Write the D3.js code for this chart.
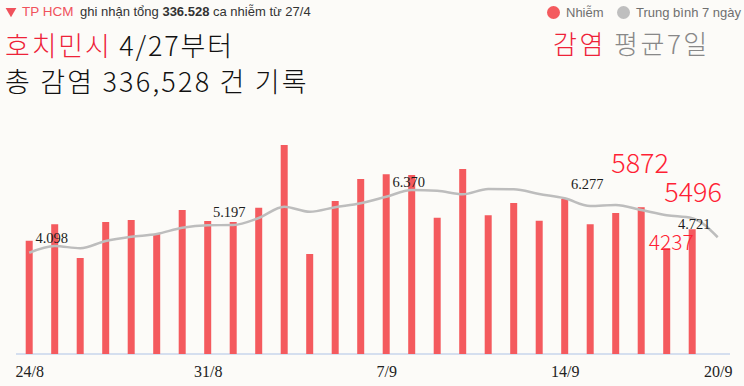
<!DOCTYPE html>
<html>
<head>
<meta charset="utf-8">
<script src="https://cdn.jsdelivr.net/npm/d3@7"></script>
<style>
  body { margin: 0; background: #fcfbf8; }
  svg { display: block; }
</style>
</head>
<body>
<div id="chart"></div>
<script>
// dates shown on the x axis (24/8 .. 20/9)
var dates = ["24/8","25/8","26/8","27/8","28/8","29/8","30/8","31/8","1/9","2/9","3/9","4/9","5/9","6/9",
  "7/9","8/9","9/9","10/9","11/9","12/9","13/9","14/9","15/9","16/9","17/9","18/9","19/9","20/9"];
var tickDates = ["24/8","31/8","7/9","14/9","20/9"];

// daily cases (bars), one less than dates
var cases = [4530,5190,3840,5280,5360,4800,5760,5320,5280,5850,8360,4000,6120,7000,
  7190,7160,5450,7400,5550,6040,5330,6200,5190,5640,5872,4237,4990];

// 7-day average (line)
var avg7 = [4050,4320,4230,4520,4690,4800,5050,5150,5160,5440,5890,5690,5870,6030,
  6290,6560,6530,6390,6600,6590,6400,6230,5920,5960,5760,5550,5430,4670];

// labelled points on the average line
var avgLabels = [
  {date: "25/8", text: "4.098"},
  {date: "1/9", text: "5.197"},
  {date: "8/9", text: "6.370"},
  {date: "15/9", text: "6.277"},
  {date: "19/9", text: "4.721"}
];
var labelShift = {"25/8": [-3, -3], "1/9": [-4, -8], "8/9": [-3, -3], "15/9": [-3, -17], "19/9": [2, 11]};

var W = 744, H = 386;
var svg = d3.select("#chart").append("svg")
  .attr("width", W)
  .attr("height", H);

var x = d3.scaleLinear()
  .domain([0, dates.length - 1])
  .range([29.2, 717.7]);

var y = d3.scaleLinear()
  .domain([0, 9000])
  .range([354, 129]);

// axis baseline
svg.append("line")
  .attr("x1", 16).attr("x2", 730)
  .attr("y1", y(0)).attr("y2", y(0))
  .style("stroke", "#c9d6ec")
  .style("stroke-width", 1.5);

// bars
svg.selectAll("rect.bar")
  .data(cases)
  .enter()
  .append("rect")
    .attr("class", "bar")
    .attr("x", (d, i) => x(i) - 3.5)
    .attr("width", 7)
    .attr("y", d => y(d))
    .attr("height", d => y(0) - y(d))
    .style("fill", "#f45a5e");

// 7 day average line
var line = d3.line()
  .x((d, i) => x(i))
  .y(d => y(d))
  .curve(d3.curveMonotoneX);

svg.append("path")
  .datum(avg7)
  .attr("d", line)
  .style("fill", "none")
  .style("stroke", "#bdbdbd")
  .style("stroke-width", 2.5);

// labels on the line
svg.selectAll("text.avg")
  .data(avgLabels)
  .enter()
  .append("text")
    .attr("class", "avg")
    .attr("x", d => x(dates.indexOf(d.date)) + labelShift[d.date][0])
    .attr("y", d => y(avg7[dates.indexOf(d.date)]) + labelShift[d.date][1])
    .attr("text-anchor", "middle")
    .style("font-family", "'Liberation Serif', serif")
    .style("font-size", "14.5px")
    .style("fill", "#1d1d1d")
    .text(d => d.text);

// x axis
var xAxis = d3.axisBottom(x)
  .tickValues(tickDates.map(d => dates.indexOf(d)))
  .tickFormat(i => dates[i])
  .tickSize(0)
  .tickPadding(12);

var gx = svg.append("g")
  .attr("transform", "translate(0," + y(0) + ")")
  .call(xAxis);
gx.select(".domain").remove();
gx.selectAll("text")
  .style("font-family", "'Liberation Serif', serif")
  .style("font-size", "16px")
  .style("fill", "#222");

// header
svg.append("path")
  .attr("d", d3.symbol(d3.symbolTriangle, 50)())
  .attr("transform", "translate(11,11) rotate(180)")
  .style("fill", "#f0525c");

svg.append("text")
  .attr("x", 22).attr("y", 16)
  .style("font-family", "'Liberation Sans', Arial, sans-serif")
  .style("font-size", "13.5px")
  .style("fill", "#f0525c")
  .text("TP HCM");

var sub = svg.append("text")
  .attr("x", 80).attr("y", 16)
  .style("font-family", "'Liberation Sans', Arial, sans-serif")
  .style("font-size", "13px")
  .style("fill", "#333");
sub.append("tspan").text("ghi nhận tổng ");
sub.append("tspan").style("font-weight", "bold").text("336.528");
sub.append("tspan").text(" ca nhiễm từ 27/4");

// legend
var legend = [
  {name: "Nhiễm", color: "#f45a5e", cx: 553.5, tx: 566},
  {name: "Trung bình 7 ngày", color: "#bfbfbf", cx: 623.5, tx: 636}
];
legend.forEach(function(l) {
  svg.append("circle")
    .attr("cx", l.cx).attr("cy", 12.5).attr("r", 6.5)
    .style("fill", l.color);
  svg.append("text")
    .attr("x", l.tx).attr("y", 17)
    .style("font-family", "'Liberation Sans', Arial, sans-serif")
    .style("font-size", "13px")
    .style("fill", "#6f6f6f")
    .text(l.name);
});

// korean overlay titles
var kfont = "'Noto Sans CJK KR', sans-serif";
var t1 = svg.append("text")
  .attr("x", 5).attr("y", 56)
  .style("font-family", kfont)
  .style("font-size", "27px")
  .style("letter-spacing", "1.8px")
  .style("font-weight", 300);
t1.append("tspan").style("fill", "#ee2238").text("호치민시");
t1.append("tspan").style("fill", "#111").text(" 4/27부터");

svg.append("text")
  .attr("x", 5).attr("y", 92)
  .style("font-family", kfont)
  .style("font-size", "27px")
  .style("letter-spacing", "2.2px")
  .style("font-weight", 300)
  .style("fill", "#111")
  .text("총 감염 336,528 건 기록");

var t3 = svg.append("text")
  .attr("x", 553).attr("y", 54)
  .style("font-family", kfont)
  .style("font-size", "26px")
  .style("letter-spacing", "2.5px")
  .style("font-weight", 300);
t3.append("tspan").style("fill", "#ee2238").text("감염");
t3.append("tspan").style("fill", "#888").text(" 평균7일");

// red value annotations
var notes = [
  {date: "17/9", text: "5872", size: 27, dx: -30, dy: -34},
  {date: "19/9", text: "5496", size: 27, dx: -28, dy: -27},
  {date: "18/9", text: "4237", size: 21, dx: -18, dy: 2}
];
svg.selectAll("text.note")
  .data(notes)
  .enter()
  .append("text")
    .attr("class", "note")
    .attr("x", d => x(dates.indexOf(d.date)) + d.dx)
    .attr("y", d => y(cases[dates.indexOf(d.date)]) + d.dy)
    .style("font-family", kfont)
    .style("font-weight", 300)
    .style("font-size", d => d.size + "px")
    .style("fill", "#ff1f35")
    .text(d => d.text);
</script>
</body>
</html>
